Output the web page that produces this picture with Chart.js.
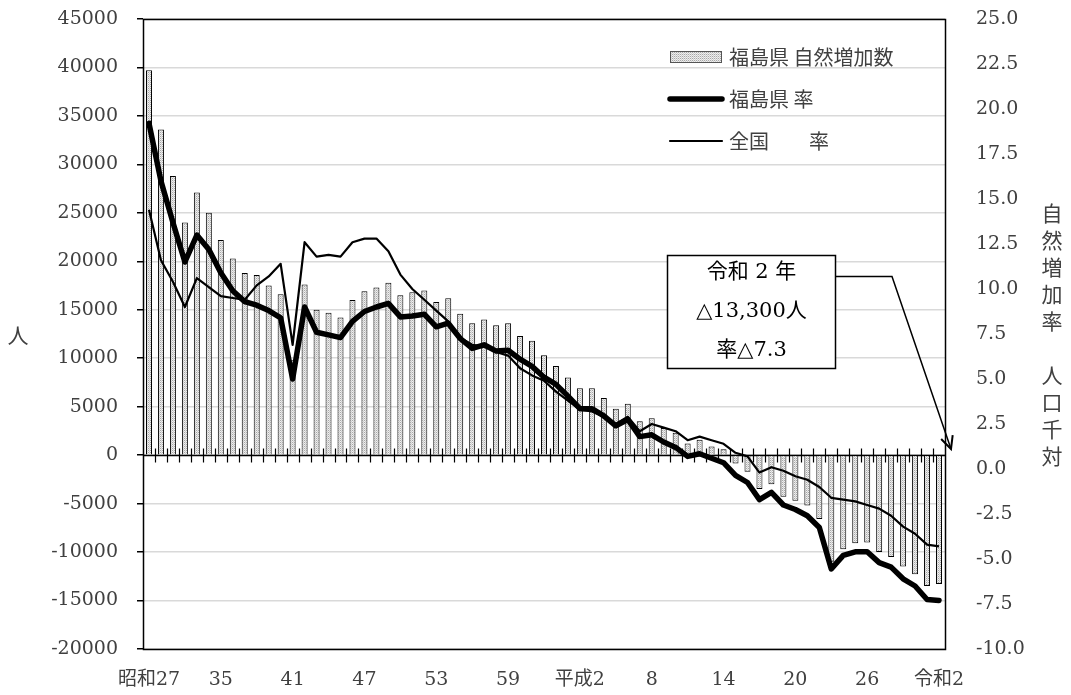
<!DOCTYPE html>
<html><head><meta charset="utf-8">
<style>html,body{margin:0;padding:0;background:#fff;}#wrap{width:1071px;height:695px;}</style>
<script src="https://cdn.jsdelivr.net/npm/chart.js@4"></script>
</head><body><div id="wrap"><canvas id="c" width="1071" height="695"></canvas></div>
<script>
const categories = ['昭和27','昭和30','昭和31','昭和32','昭和33','昭和34','昭和35','昭和36','昭和37','昭和38','昭和39','昭和40','昭和41','昭和42','昭和43','昭和44','昭和45','昭和46','昭和47','昭和48','昭和49','昭和50','昭和51','昭和52','昭和53','昭和54','昭和55','昭和56','昭和57','昭和58','昭和59','昭和60','昭和61','昭和62','昭和63','平成元','平成2','平成3','平成4','平成5','平成6','平成7','平成8','平成9','平成10','平成11','平成12','平成13','平成14','平成15','平成16','平成17','平成18','平成19','平成20','平成21','平成22','平成23','平成24','平成25','平成26','平成27','平成28','平成29','平成30','平成31','令和2'];
const tickLabelIndex = [0,6,12,18,24,30,36,42,48,54,60,66];
const tickLabelText = ['昭和27','35','41','47','53','59','平成2','8','14','20','26','令和2'];
const fukushimaIncrease = [39700,33600,28800,24000,27100,25000,22200,20300,18800,18600,17500,16600,9800,17600,15000,14700,14200,16000,16900,17300,17800,16500,16800,17000,15800,16200,14600,13600,14000,13400,13600,12300,11800,10300,9200,8000,6900,6900,5900,4800,5300,3500,3800,2800,2300,1200,1600,900,600,-850,-1700,-3500,-3000,-4300,-4700,-5200,-6600,-11000,-9700,-9100,-9000,-10000,-10500,-11500,-12300,-13500,-13300];
const fukushimaRate = [19.2,16.0,13.7,11.5,13.0,12.2,10.9,9.9,9.3,9.1,8.8,8.4,5.0,9.0,7.6,7.45,7.3,8.2,8.75,9.0,9.2,8.45,8.5,8.6,7.9,8.1,7.25,6.7,6.9,6.55,6.6,6.1,5.7,5.1,4.7,4.05,3.35,3.35,2.95,2.4,2.75,1.8,1.9,1.5,1.2,0.7,0.85,0.6,0.35,-0.35,-0.75,-1.7,-1.3,-2.0,-2.25,-2.6,-3.25,-5.55,-4.8,-4.6,-4.6,-5.2,-5.45,-6.1,-6.5,-7.25,-7.3];
const japanRate = [14.4,11.6,10.4,9.0,10.6,10.1,9.6,9.5,9.4,10.2,10.7,11.4,6.9,12.6,11.8,11.9,11.8,12.6,12.8,12.8,12.1,10.8,10.0,9.4,8.8,8.2,7.3,6.9,6.8,6.5,6.3,5.6,5.2,4.9,4.3,3.8,3.3,3.2,2.9,2.5,2.9,2.1,2.5,2.3,2.1,1.6,1.8,1.6,1.4,0.9,0.7,-0.2,0.1,-0.1,-0.4,-0.6,-1.0,-1.6,-1.7,-1.8,-2.0,-2.2,-2.6,-3.2,-3.6,-4.2,-4.3];
const leftTicks = {min:-20000, max:45000, step:5000};
const rightTicks = {min:-10, max:25, step:2.5};

function makePattern(){
  const p = document.createElement('canvas'); p.width=2; p.height=2;
  const g = p.getContext('2d');
  g.fillStyle='#a8a8a8'; g.fillRect(0,0,1,1);
  g.fillStyle='#e6e6e6'; g.fillRect(1,0,1,1);
  g.fillStyle='#f2f2f2'; g.fillRect(0,1,1,1);
  g.fillStyle='#cfcfcf'; g.fillRect(1,1,1,1);
  return document.getElementById('c').getContext('2d').createPattern(p,'repeat');
}
const pat = makePattern();
const serif = "'DejaVu Serif','Noto Sans CJK JP',serif";
const cjk = "'Noto Sans CJK JP',sans-serif";
const tickFont = {family: serif, size: 19};

const framePlugin = {
  id:'frame',
  beforeDatasetsDraw(chart){
    const {ctx, chartArea:a, scales:{x, y}} = chart;
    const y0 = Math.round(y.getPixelForValue(0)) + 0.5;
    ctx.save();
    ctx.strokeStyle='#000'; ctx.lineWidth=1.5;
    ctx.beginPath(); ctx.moveTo(a.left,y0); ctx.lineTo(a.right,y0); ctx.stroke();
    ctx.lineWidth=1.2;
    for (let i=1;i<categories.length;i++){
      const px = Math.round((x.getPixelForValue(i-1)+x.getPixelForValue(i))/2)+0.5;
      ctx.beginPath(); ctx.moveTo(px,y0-7); ctx.lineTo(px,y0+7); ctx.stroke();
    }
    ctx.restore();
  },
  afterDatasetsDraw(chart){
    const {ctx, chartArea:a} = chart;
    ctx.save(); ctx.strokeStyle='#000'; ctx.lineWidth=1.5;
    ctx.strokeRect(Math.round(a.left)+0.5, Math.round(a.top)+0.5, Math.round(a.right-a.left), Math.round(a.bottom-a.top));
    ctx.restore();
  }
};

const overlayPlugin = {
  id:'overlay',
  afterDraw(chart){
    const ctx = chart.ctx, a = chart.chartArea;
    ctx.save();
    const rows = [57, 99, 141];
    const lx0 = a.right-275, lx1 = a.right-223, tx = a.right-216;
    chart.data.datasets.forEach((d,k)=>{
      const yy = rows[k];
      if (d.type==='bar'){
        ctx.fillStyle=d.backgroundColor; ctx.fillRect(lx0, yy-6, lx1-lx0, 12);
        ctx.strokeStyle='#555'; ctx.lineWidth=1; ctx.strokeRect(lx0+0.5, yy-5.5, lx1-lx0-1, 11);
      } else {
        ctx.strokeStyle=d.borderColor; ctx.lineWidth=d.borderWidth; ctx.lineCap='round';
        ctx.beginPath(); ctx.moveTo(lx0, yy); ctx.lineTo(lx1, yy); ctx.stroke();
      }
      ctx.fillStyle='#404040'; ctx.font='20px '+cjk; ctx.textBaseline='middle'; ctx.textAlign='left';
      ctx.fillText(d.label, tx, yy);
    });
    const bx = 667.5, by = 255.5, bw = 168, bh = 113;
    ctx.lineCap='butt';
    ctx.fillStyle='#fff'; ctx.fillRect(bx,by,bw,bh);
    ctx.strokeStyle='#000'; ctx.lineWidth=1.5; ctx.strokeRect(bx,by,bw,bh);
    ctx.fillStyle='#000'; ctx.font='21px '+serif; ctx.textAlign='center'; ctx.textBaseline='middle';
    const cx = bx+bw/2;
    ctx.fillText('令和 2 年', cx, 273);
    ctx.fillText('△13,300人', cx, 312);
    ctx.fillText('率△7.3', cx, 351);
    const tip = [951, 449];
    ctx.beginPath(); ctx.moveTo(bx+bw, 276.5); ctx.lineTo(892, 276.5); ctx.lineTo(tip[0], tip[1]); ctx.stroke();
    const ang = Math.atan2(tip[1]-276.5, tip[0]-892);
    ctx.beginPath();
    ctx.moveTo(tip[0]-14*Math.cos(ang-0.45), tip[1]-14*Math.sin(ang-0.45));
    ctx.lineTo(tip[0], tip[1]);
    ctx.lineTo(tip[0]-14*Math.cos(ang+0.45), tip[1]-14*Math.sin(ang+0.45));
    ctx.lineWidth=2; ctx.stroke();
    ctx.fillStyle='#404040'; ctx.font='21px '+cjk; ctx.textAlign='center'; ctx.textBaseline='middle';
    ctx.fillText('人', 18, (a.top+a.bottom)/2+1);
    const rt = '自然増加率　人口千対';
    for (let k=0;k<rt.length;k++){ ctx.fillText(rt[k], 1052, 213+27*k); }
    ctx.restore();
  }
};

function noPad(s){ s.paddingTop=0; s.paddingBottom=0; s.paddingLeft=0; s.paddingRight=0; }

new Chart(document.getElementById('c'), {
  type:'bar',
  data:{
    labels: categories,
    datasets:[
      {type:'bar', label:'福島県 自然増加数', data:fukushimaIncrease, yAxisID:'y', backgroundColor:pat, borderColor:'#000', borderWidth:1, barPercentage:0.5, categoryPercentage:1, order:3},
      {type:'line', label:'福島県 率', data:fukushimaRate, yAxisID:'y1', borderColor:'#000', borderWidth:5.5, pointRadius:0, tension:0, borderJoinStyle:'round', borderCapStyle:'round', order:1},
      {type:'line', label:'全国　　率', data:japanRate, yAxisID:'y1', borderColor:'#000', borderWidth:2.2, pointRadius:0, tension:0, borderJoinStyle:'round', order:2}
    ]
  },
  options:{
    responsive:false, animation:false, devicePixelRatio:1,
    layout:{padding:{top:19,left:0,right:0,bottom:0}},
    plugins:{legend:{display:false}, tooltip:{enabled:false}},
    scales:{
      x:{offset:true, grid:{display:false, drawTicks:false}, border:{display:false},
         ticks:{autoSkip:false, maxRotation:0, minRotation:0, padding:20, font:tickFont, color:'#404040',
           callback:(v,i)=>{const k=tickLabelIndex.indexOf(i); return k>=0?tickLabelText[k]:'';}},
         afterFit:(s)=>{s.height=46; noPad(s);}},
      y:{position:'left', min:leftTicks.min, max:leftTicks.max,
         ticks:{stepSize:leftTicks.step, padding:19, font:tickFont, color:'#404040', callback:v=>String(v)},
         grid:{color:'#d9d9d9', lineWidth:1.5, tickColor:'#000', tickWidth:1.5, tickLength:6, drawTicks:true},
         border:{display:false}, afterFit:(s)=>{s.width=143; noPad(s);}},
      y1:{position:'right', min:rightTicks.min, max:rightTicks.max,
         ticks:{stepSize:rightTicks.step, padding:31, font:tickFont, color:'#404040', callback:v=>Number(v).toFixed(1)},
         grid:{drawOnChartArea:false, drawTicks:false}, border:{display:false}, afterFit:(s)=>{s.width=126; noPad(s);}}
    }
  },
  plugins:[framePlugin, overlayPlugin]
});
</script></body></html>
